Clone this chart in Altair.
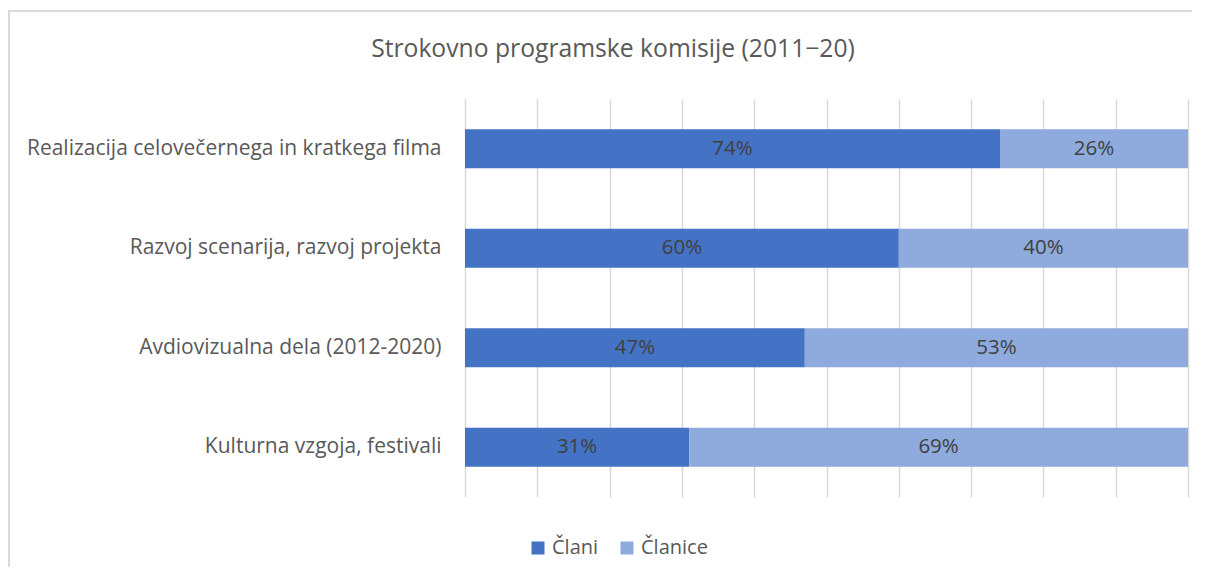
import altair as alt
import pandas as pd

title_text = "Strokovno programske komisije (2011−20)"
categories = [
    "Realizacija celovečernega in kratkega filma",
    "Razvoj scenarija, razvoj projekta ",
    "Avdiovizualna dela (2012-2020)",
    "Kulturna vzgoja, festivali",
]
series = ["Člani", "Članice"]
clani = [74, 60, 47, 31]
clanice = [26, 40, 53, 69]

rows = []
for i, c in enumerate(categories):
    rows.append({"cat": c, "series": series[0], "order": 0, "value": clani[i], "label": f"{clani[i]}%"})
    rows.append({"cat": c, "series": series[1], "order": 1, "value": clanice[i], "label": f"{clanice[i]}%"})
df = pd.DataFrame(rows)

FONT = "Open Sans"
colors = ["#4472C4", "#8FAADC"]

base = alt.Chart(df).transform_stack(
    stack="value",
    groupby=["cat"],
    as_=["x0", "x1"],
    offset="normalize",
    sort=[alt.SortField("order", order="ascending")],
).transform_calculate(mid="(datum.x0 + datum.x1) / 2")

yenc = alt.Y(
    "cat:N",
    sort=categories,
    title=None,
    scale=alt.Scale(paddingInner=0.61, paddingOuter=0.305),
    axis=alt.Axis(
        labelFont=FONT, labelFontSize=21, labelColor="#595959", labelPadding=24,
        ticks=False, domain=False, labelLimit=600,
    ),
)

bars = base.mark_bar().encode(
    x=alt.X(
        "x0:Q",
        scale=alt.Scale(domain=[0, 1], nice=False),
        title=None,
        axis=alt.Axis(
            values=[i / 10 for i in range(11)], labels=False, ticks=False, domain=False,
            grid=True, gridColor="#D9D9D9", gridWidth=1.5,
        ),
    ),
    x2="x1:Q",
    y=yenc,
    color=alt.Color(
        "series:N",
        sort=series,
        scale=alt.Scale(domain=series, range=colors),
        legend=alt.Legend(
            title=None, orient="none", direction="horizontal", legendX=63, legendY=439,
            labelFont=FONT, labelFontSize=20, labelColor="#595959", labelOffset=4,
            symbolType="square", symbolSize=169, symbolStrokeWidth=0, columnPadding=18,
        ),
    ),
)

texts = base.mark_text(font=FONT, fontSize=20.5, color="#404040").encode(
    x="mid:Q",
    y=alt.Y("cat:N", sort=categories),
    text="label:N",
)

title = alt.Chart(pd.DataFrame({"t": [title_text]})).mark_text(
    font=FONT, fontSize=24.7, color="#595959", align="center", baseline="middle"
).encode(x=alt.value(148), y=alt.value(-49), text="t:N")

border = alt.Chart(df).mark_rect(fill=None, stroke="#D9D9D9", strokeWidth=1.5).encode(
    x=alt.value(-456), x2=alt.value(800), y=alt.value(-88), y2=alt.value(600)
)

chart = alt.layer(border, bars, texts, title).properties(
    width=723,
    height=398,
    autosize=alt.AutoSizeParams(type="none"),
    padding={"left": 457, "top": 91, "right": 4, "bottom": 70},
).configure_view(stroke=None)

chart.save("out.html", embed_options={"renderer": "svg", "actions": False})
